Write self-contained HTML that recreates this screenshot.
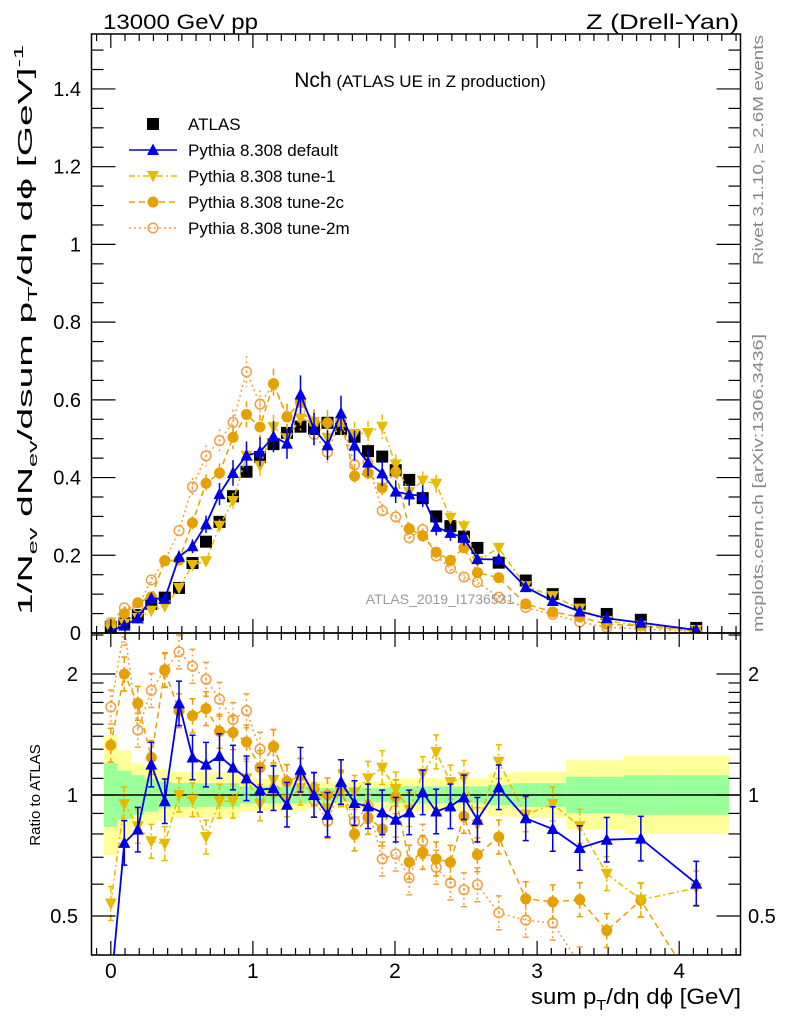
<!DOCTYPE html>
<html><head><meta charset="utf-8">
<style>
html,body{margin:0;padding:0;background:#fff;}
svg{display:block;font-family:"Liberation Sans",sans-serif;}
</style></head>
<body>
<svg id="chart" width="786" height="1024" viewBox="0 0 786 1024" xmlns="http://www.w3.org/2000/svg">
<rect x="0" y="0" width="786" height="1024" fill="#fff"/>
<g id="ratioBands"></g>
<g id="marks"></g>
<g id="axes"></g>
<text x="103" y="29" font-size="21" textLength="155" lengthAdjust="spacingAndGlyphs">13000 GeV pp</text>
<text x="739" y="29" font-size="21" text-anchor="end" textLength="153" lengthAdjust="spacingAndGlyphs">Z (Drell-Yan)</text>
<text x="420" y="87" text-anchor="middle"><tspan font-size="21">Nch</tspan><tspan font-size="17"> (ATLAS UE in Z production)</tspan></text>
<text x="440" y="604" font-size="14" fill="#999" text-anchor="middle">ATLAS_2019_I1736531</text>
<text transform="translate(763,150) rotate(-90)" font-size="15" fill="#888" text-anchor="middle" textLength="230" lengthAdjust="spacingAndGlyphs">Rivet 3.1.10, ≥ 2.6M events</text>
<text transform="translate(763,483) rotate(-90)" font-size="15" fill="#888" text-anchor="middle" textLength="298" lengthAdjust="spacingAndGlyphs">mcplots.cern.ch [arXiv:1306.3436]</text>
<text transform="translate(32,330) rotate(-90)" font-size="20" text-anchor="middle" textLength="570" lengthAdjust="spacingAndGlyphs">1/N<tspan font-size="13" dy="5">ev</tspan><tspan dy="-5"> dN</tspan><tspan font-size="13" dy="5">ev</tspan><tspan dy="-5">/dsum p</tspan><tspan font-size="13" dy="5">T</tspan><tspan dy="-5">/dη dϕ  [GeV]</tspan><tspan font-size="13" dy="-9">-1</tspan></text>
<text transform="translate(40,795) rotate(-90)" font-size="15" text-anchor="middle">Ratio to ATLAS</text>
<text x="741" y="1004" font-size="22" text-anchor="end" textLength="210" lengthAdjust="spacingAndGlyphs">sum p<tspan font-size="15" dy="6">T</tspan><tspan dy="-6">/dη dϕ [GeV]</tspan></text>
<g id="legend"></g>
</svg>
<script>
const xValues=[0.0,0.095,0.19,0.285,0.38,0.48,0.575,0.67,0.765,0.86,0.955,1.05,1.145,1.24,1.335,1.43,1.525,1.62,1.715,1.81,1.91,2.005,2.10,2.195,2.29,2.39,2.485,2.58,2.73,2.92,3.11,3.30,3.49,3.73,4.12];
const atlasValues=[0.016,0.025,0.046,0.075,0.091,0.116,0.18,0.235,0.286,0.352,0.415,0.453,0.486,0.515,0.531,0.525,0.541,0.525,0.505,0.468,0.454,0.419,0.394,0.347,0.300,0.275,0.248,0.219,0.181,0.135,0.100,0.075,0.049,0.034,0.013];
const ratioDefault=[0.33,0.76,0.82,1.19,0.965,1.69,1.24,1.19,1.25,1.17,1.10,1.03,1.04,0.946,1.156,1.0,0.893,1.077,0.955,0.937,0.905,0.868,0.905,1.015,0.91,0.937,0.987,0.868,1.045,0.875,0.823,0.738,0.774,0.779,0.602];
const ratioTune1=[0.537,0.95,0.836,0.767,0.757,1.0,0.973,0.786,0.965,0.965,1.10,0.95,1.09,0.973,1.04,1.035,0.928,1.03,1.015,1.10,1.17,1.035,0.92,1.13,1.28,1.077,1.106,0.844,1.21,0.893,0.95,0.836,0.637,0.549,0.587];
const ratioTune2c=[1.33,2.0,1.69,1.24,2.04,1.62,1.575,1.64,1.44,1.43,1.355,1.17,1.32,1.08,1.12,1.035,1.0,1.04,0.80,0.88,0.823,0.99,0.681,0.72,0.693,0.68,0.885,0.71,0.786,0.552,0.542,0.549,0.46,0.547,0.33];
const ratioTune2m=[1.655,2.6,1.45,1.82,2.05,2.27,2.09,1.94,1.73,1.54,1.62,1.30,1.32,1.08,1.117,0.973,0.86,1.047,0.857,0.937,0.693,0.713,0.622,0.767,0.661,0.604,0.581,0.598,0.509,0.488,0.48,0.38,0.3,0.3,0.3];
const bandGreen=[1.2,1.15,1.12,1.10,1.08,1.07,1.07,1.07,1.07,1.07,1.05,1.05,1.05,1.05,1.05,1.04,1.04,1.04,1.04,1.04,1.04,1.05,1.05,1.05,1.05,1.05,1.05,1.05,1.06,1.07,1.07,1.11,1.11,1.12,1.12];
const bandYellow=[1.41,1.29,1.2,1.18,1.16,1.14,1.14,1.14,1.14,1.14,1.10,1.10,1.10,1.10,1.10,1.08,1.08,1.08,1.08,1.08,1.08,1.10,1.10,1.10,1.10,1.10,1.10,1.10,1.13,1.14,1.14,1.22,1.22,1.25,1.25];
const xTicks=[0,1,2,3,4];
const yTicks=[0,0.2,0.4,0.6,0.8,1,1.2,1.4];
const ratioTicks=[0.5,1,2];

const NS="http://www.w3.org/2000/svg";
const L=91.5,R=740.5,T=34,MB=633,RB=955;
const X=v=>110.8+v*142.1;
const Y=v=>633-v*388.6;
const RY=r=>795-121*Math.log2(r);
function mk(tag,attrs,parent){const e=document.createElementNS(NS,tag);for(const k in attrs)e.setAttribute(k,attrs[k]);parent.appendChild(e);return e;}
const clamp=(y,a,b)=>Math.max(a,Math.min(b,y));

const edges=[];
edges.push(xValues[0]-0.0475);
for(let i=0;i<xValues.length-1;i++)edges.push((xValues[i]+xValues[i+1])/2);
edges.push(4.35);

const bands=document.getElementById('ratioBands');
for(let i=0;i<xValues.length;i++){
  const x1=X(edges[i]),x2=X(edges[i+1]);
  const yu=clamp(RY(bandYellow[i]),T,RB),yl=clamp(RY(1/bandYellow[i]),T,RB);
  const ry=mk('rect',{x:x1,y:yu,width:x2-x1,height:yl-yu,fill:'#ffff99'},bands);
  
  
  const gu=RY(bandGreen[i]),gl=RY(1/bandGreen[i]);
  const rg=mk('rect',{x:x1,y:gu,width:x2-x1,height:gl-gu,fill:'#99ff99'},bands);
  
  
}

const marks=document.getElementById('marks');
const clipDefs=mk('defs',{},marks);
const c1=mk('clipPath',{id:'cmain'},clipDefs);mk('rect',{x:L,y:T,width:R-L,height:MB-T},c1);
const c2=mk('clipPath',{id:'cratio'},clipDefs);mk('rect',{x:L,y:MB,width:R-L,height:RB-MB},c2);
const gMain=mk('g',{'clip-path':'url(#cmain)'},marks);
const gRatio=mk('g',{'clip-path':'url(#cratio)'},marks);




mk('line',{x1:L,x2:R,y1:RY(1),y2:RY(1),stroke:'#000','stroke-width':1.5},gRatio);

function marker(type,x,y,color,parent,name){
  let e;
  if(type==='square')e=mk('rect',{x:x-6,y:y-6,width:12,height:12,fill:color},parent);
  else if(type==='up')e=mk('polygon',{points:`${x},${y-6.5} ${x-6},${y+5} ${x+6},${y+5}`,fill:color},parent);
  else if(type==='down')e=mk('polygon',{points:`${x},${y+6.5} ${x-6},${y-5} ${x+6},${y-5}`,fill:color},parent);
  else if(type==='dot')e=mk('circle',{cx:x,cy:y,r:5.5,fill:color},parent);
  else e=mk('circle',{cx:x,cy:y,r:4.8,fill:'none',stroke:color,'stroke-width':1.5},parent);
  
  
  return e;
}

const series=[
 {name:'tune-2m',ratio:ratioTune2m,color:'#f0a040',dash:'2,3',mark:'open',err:0.06},
 {name:'tune-2c',ratio:ratioTune2c,color:'#e6a000',dash:'6,4',mark:'dot',err:0.06},
 {name:'tune-1',ratio:ratioTune1,color:'#e8bb00',dash:'6,3,2,3',mark:'down',err:0.06},
 {name:'default',ratio:ratioDefault,color:'#0000e6',dash:'',mark:'up',err:0.08}
];

atlasValues.forEach((v,i)=>{marker('square',X(xValues[i]),Y(v),'#000',gMain,'atlas-point');});

series.forEach(s=>{
  const vals=s.ratio.map((r,i)=>r*atlasValues[i]);
  const pm=vals.map((v,i)=>`${X(xValues[i]).toFixed(1)},${Y(v).toFixed(1)}`).join(' ');
  const lm=mk('polyline',{points:pm,fill:'none',stroke:s.color,'stroke-width':s.dash?1.5:1.8,'stroke-dasharray':s.dash},gMain);
  
  
  const pr=s.ratio.map((r,i)=>`${X(xValues[i]).toFixed(1)},${RY(r).toFixed(1)}`).join(' ');
  const lr=mk('polyline',{points:pr,fill:'none',stroke:s.color,'stroke-width':s.dash?1.5:1.8,'stroke-dasharray':s.dash},gRatio);
  
  
  vals.forEach((v,i)=>{
    const x=X(xValues[i]);
    const e=v*s.err;
    mk('line',{x1:x,x2:x,y1:Y(v+e),y2:Y(v-e),stroke:s.color,'stroke-width':1.5,'stroke-dasharray':s.dash},gMain);
    marker(s.mark,x,Y(v),s.color,gMain,s.name+'-point');
    const r=s.ratio[i],er=s.err*1.7;
    mk('line',{x1:x,x2:x,y1:RY(r*(1+er)),y2:RY(r/(1+er)),stroke:s.color,'stroke-width':1.5,'stroke-dasharray':s.dash},gRatio);
    mk('line',{x1:x-3,x2:x+3,y1:RY(r*(1+er)),y2:RY(r*(1+er)),stroke:s.color,'stroke-width':1.5},gRatio);
    mk('line',{x1:x-3,x2:x+3,y1:RY(r/(1+er)),y2:RY(r/(1+er)),stroke:s.color,'stroke-width':1.5},gRatio);
    marker(s.mark,x,RY(r),s.color,gRatio,s.name+'-ratio-point');
  });
});

const ax=document.getElementById('axes');
mk('rect',{x:L,y:T,width:R-L,height:MB-T,fill:'none',stroke:'#000','stroke-width':1.5},ax);
mk('rect',{x:L,y:MB,width:R-L,height:RB-MB,fill:'none',stroke:'#000','stroke-width':1.5},ax);
function line(x1,y1,x2,y2){mk('line',{x1,y1,x2,y2,stroke:'#000','stroke-width':1.2},ax);}
for(let k=-1;k<=44;k++){
  const v=k/10,x=X(v);if(x<L||x>R)continue;
  const len=(k%10===0)?14:7;
  line(x,MB,x,MB-len);line(x,T,x,T+len);line(x,RB,x,RB-len);line(x,MB,x,MB+len);
}
for(let k=0;k<=30;k++){
  const v=k*0.05,y=Y(v);if(y<T)continue;
  const len=(k%4===0)?24:12;
  line(L,y,L+len,y);line(R,y,R-len,y);
}
[0.4,0.5,0.6,0.7,0.8,0.9,1,1.1,1.2,1.3,1.4,1.5,1.6,1.7,1.8,1.9,2,2.5].forEach(r=>{
  const y=RY(r);if(y<MB||y>RB)return;
  const len=(r===0.5||r===1||r===2)?24:12;
  line(L,y,L+len,y);line(R,y,R-len,y);
});
xTicks.forEach(v=>{const t=mk('text',{x:X(v),y:978,'font-size':21,'text-anchor':'middle'},ax);t.textContent=v;
 
 });
yTicks.forEach(v=>{const t=mk('text',{x:81,y:Y(v)+7,'font-size':20,'text-anchor':'end'},ax);t.textContent=v;
 
 });
ratioTicks.forEach(r=>{
 const t=mk('text',{x:78,y:RY(r)+7,'font-size':20,'text-anchor':'end'},ax);t.textContent=r;
 
 
 const t2=mk('text',{x:748,y:RY(r)+7,'font-size':20,'text-anchor':'start'},ax);t2.textContent=r;
 
 
});

const lg=document.getElementById('legend');
const legendNames=['ATLAS','Pythia 8.308 default','Pythia 8.308 tune-1','Pythia 8.308 tune-2c','Pythia 8.308 tune-2m'];
const legendSeries=[null,series[3],series[2],series[1],series[0]];
legendNames.forEach((n,i)=>{
  const y=124+i*26;
  const s=legendSeries[i];
  if(s){const l=mk('line',{x1:129,x2:177,y1:y,y2:y,stroke:s.color,'stroke-width':1.5,'stroke-dasharray':s.dash},lg);
    
    
    marker(s.mark,153,y,s.color,lg,'legend-marker');}
  else marker('square',153,y,'#000',lg,'legend-marker');
  const t=mk('text',{x:188,y:y+6,'font-size':17},lg);t.textContent=n;
  
  
});
</script>
</body></html>
